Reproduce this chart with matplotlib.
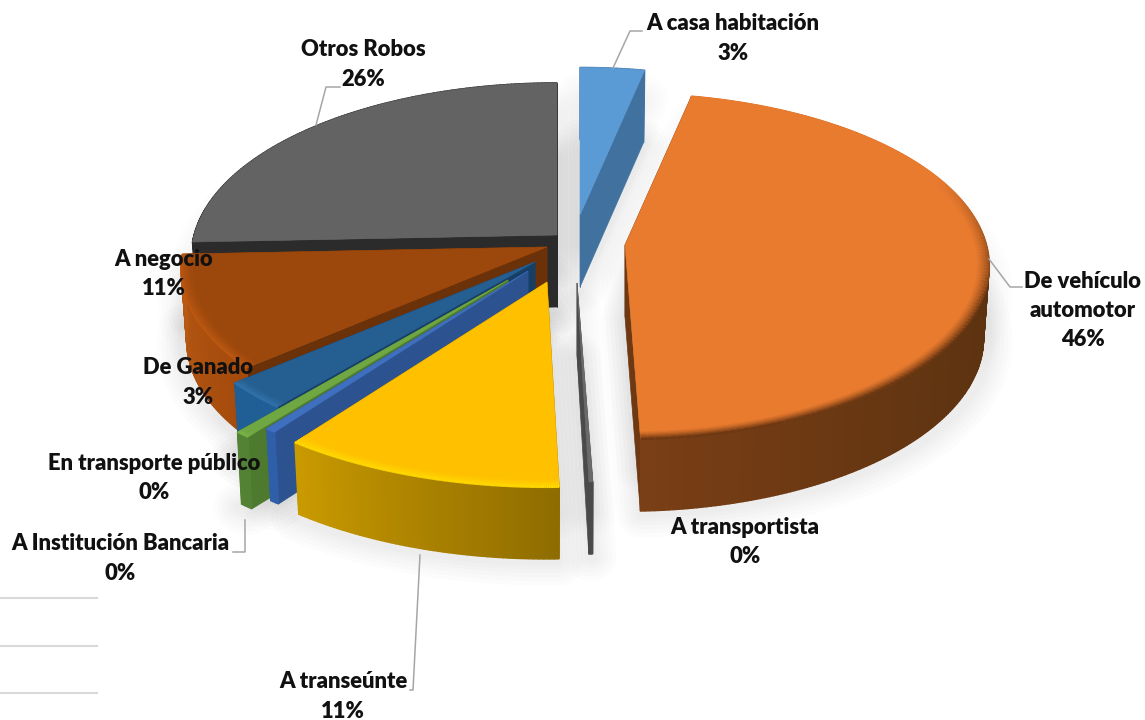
import numpy as np
import matplotlib
matplotlib.use('Agg')
import matplotlib.pyplot as plt
from matplotlib.collections import LineCollection
from matplotlib.colors import to_rgb

## datos
nombres = ['A casa habitación', 'De vehículo\nautomotor', 'A transportista', 'A transeúnte',
           'A Institución Bancaria', 'En transporte público', 'De Ganado', 'A negocio', 'Otros Robos']
valores = [3.3, 46.1, 0.15, 10.6, 0.4, 0.55, 2.65, 10.6, 25.65]
etiquetas = ['3%', '46%', '0%', '11%', '0%', '0%', '3%', '11%', '26%']

## estilo de cada rebanada (mismo orden que nombres)
vertice = [(580, 215), (625, 245), (577, 283), (547, 282), (528, 271), (508, 280), (535, 262), (547, 247), (557, 235)]
escala = [0.97, 0.995, 1.02, 1.05, 1.055, 1.05, 1.0, 1.0, 1.0]
c_top = ['#5B9BD5', '#E97B2F', '#6A6A6A', '#FFC000', '#3F6FBF', '#6FA843', '#255E91', '#9C480D', '#636363']
c_radial = ['#41729F', '#6E3812', '#4A4A4A', '#8F6C00', '#2C5290', '#4E7A30', '#173F66', '#6B3108', '#2B2B2B']
c_arco1 = ['#41729F', '#56300F', '#4A4A4A', '#8F6C00', '#2F5FA8', '#548235', '#1F5F96', '#A34A0C', '#2B2B2B']
c_arco2 = ['#41729F', '#7A3F16', '#4A4A4A', '#C99A00', '#2F5FA8', '#548235', '#1F5F96', '#B85A14', '#2B2B2B']
c_borde = ['#5B9BD5', '#6E3812', '#6A6A6A', '#FFD800', '#5080D0', '#86C050', '#3578B0', '#C05A12', '#636363']
orden = [8, 0, 7, 6, 5, 4, 3, 2, 1]

## posiciones de los textos (centro de cada linea)
pos_texto = [(733, 24), (1083, 281), (745, 527), (343, 682), (120, 544), (154, 463), (198, 368), (164, 259), (363, 50)]
guias = [[(613, 68), (630, 31), (642, 31)], [(989, 259), (1010, 287), (1022, 287)],
         [(245, 520), (245, 552), (233, 552)], [(420, 555), (413, 690), (410, 690)],
         [(316, 125), (326, 87), (340, 87)]]
lineas_fondo = [598, 646, 693]

RX, RY, PERSP, ALTO, BASE = 363, 171, 0.124, 72, 0.985

fig = plt.figure(figsize=(11.45, 7.2), dpi=100)
ax = fig.add_axes([0, 0, 1, 1])
ax.set_xlim(0, 1145)
ax.set_ylim(720, 0)
ax.axis('off')


def proyecta(i, ang, r=1.0):
    # angulo en grados desde las 12, sentido horario
    t = np.radians(ang)
    u, v = r * np.sin(t), r * np.cos(t)
    s = 1 / (1 + PERSP * v)
    x = vertice[i][0] + escala[i] * RX * u * s
    y = vertice[i][1] - escala[i] * RY * v * s
    return x, y


def abajo(i, x):
    # la base se ve un poco mas chica que la cara de arriba
    return vertice[i][0] + (x - vertice[i][0]) * BASE


def mezcla(a, b, t):
    a, b = np.array(to_rgb(a)), np.array(to_rgb(b))
    return a + (b - a) * t


bordes = np.cumsum([0] + valores) / sum(valores) * 360

for i in range(9):
    ang = np.linspace(bordes[i], bordes[i + 1], 60)
    x, y = proyecta(i, ang)
    xs = np.r_[vertice[i][0], x]
    ys = np.r_[vertice[i][1], y]
    # sombra difusa
    for lw in [34, 28, 22, 16, 11, 6]:
        ax.fill(xs, ys + ALTO + 3, fc='none', ec='k', lw=lw, alpha=0.012, zorder=1, joinstyle='round')
        ax.fill(xs, ys + ALTO * 0.4, fc='none', ec='k', lw=lw, alpha=0.008, zorder=1, joinstyle='round')

for n, i in enumerate(orden):
    z = 2 + n
    a1, a2 = bordes[i], bordes[i + 1]
    vx, vy = vertice[i]
    # paredes radiales
    for a in (a1, a2):
        px, py = proyecta(i, a)
        ax.fill([vx, px, abajo(i, px), vx], [vy, py, py + ALTO, vy + ALTO], fc=c_radial[i], ec=c_radial[i], lw=0.5, zorder=z)
    # pared curva
    ang = np.linspace(a1, a2, max(4, int((a2 - a1) * 1.5)))
    x, y = proyecta(i, ang)
    xb = abajo(i, x)
    for k in range(len(ang) - 1):
        t = k / (len(ang) - 2)
        col = mezcla(c_arco1[i], c_arco2[i], t ** 3 if i == 1 else t)
        ax.fill([x[k], x[k + 1], xb[k + 1], xb[k]], [y[k], y[k + 1], y[k + 1] + ALTO, y[k] + ALTO],
                fc=col, ec=col, lw=1.0, zorder=z)
    # cara superior
    ang = np.linspace(a1, a2, 160)
    x, y = proyecta(i, ang)
    ax.fill(np.r_[vx, x], np.r_[vy, y], fc=c_top[i], ec=c_top[i], lw=0.4, zorder=z)
    # bisel del borde frontal, entra poco a poco desde atras
    if i not in (0, 8):
        for k in range(7):
            t = k / 6
            xr, yr = proyecta(i, ang, 0.965 + 0.035 * t)
            peso = np.clip((ang - 65) / 45, 0, 1)
            puntos = np.column_stack([xr, yr])
            segs = np.stack([puntos[:-1], puntos[1:]], axis=1)
            cols = [mezcla(c_top[i], c_borde[i], t ** 1.3 * p) for p in peso[:-1]]
            ax.add_collection(LineCollection(segs, colors=cols, linewidths=1.6, zorder=z, capstyle='butt'))

# lineas sueltas del fondo y guias
for yl in lineas_fondo:
    ax.plot([0, 97], [yl, yl], color='#D9D9D9', lw=1.5, zorder=1)
for g in guias:
    ax.plot([p[0] for p in g], [p[1] for p in g], color='#A6A6A6', lw=1.1, zorder=20)

# textos
for i in range(9):
    lineas = nombres[i].split('\n') + [etiquetas[i]]
    for k, txt in enumerate(lineas):
        ax.text(pos_texto[i][0], pos_texto[i][1] + k * 29.2, txt, family='Lato', weight='heavy', fontsize=15.8,
                color='#111111', ha='center', va='center', zorder=30)

fig.savefig('out.png', dpi=100, facecolor='white')
